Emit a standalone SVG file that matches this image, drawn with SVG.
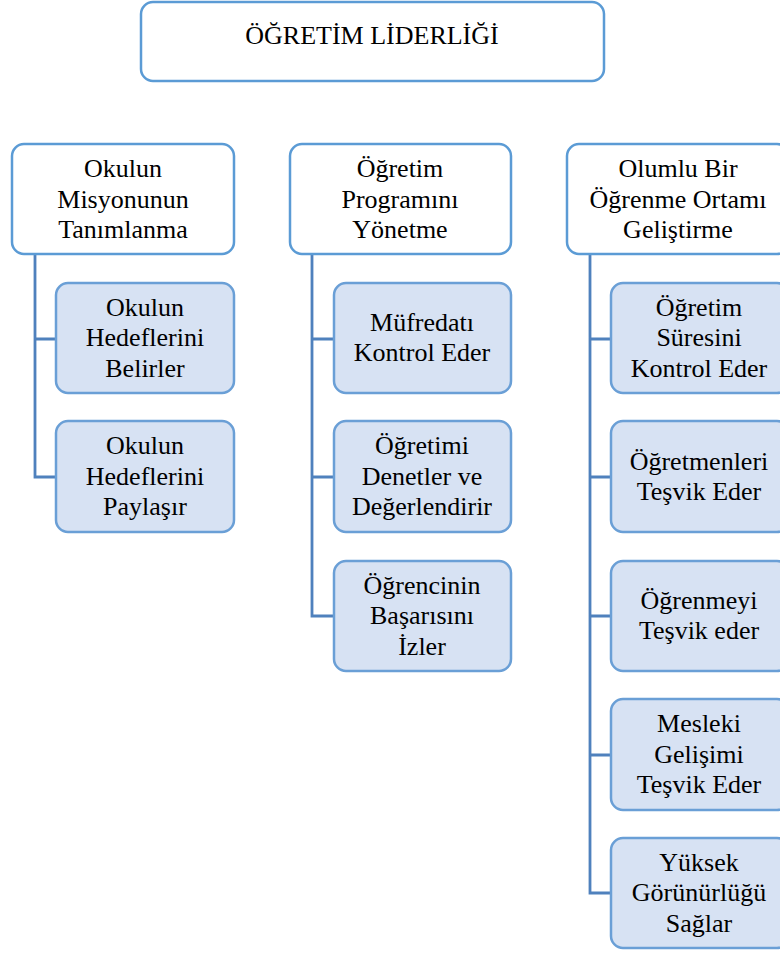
<svg xmlns="http://www.w3.org/2000/svg" width="780" height="954" viewBox="0 0 780 954">
<style>
.hdr{fill:#ffffff;stroke:#5b9bd5;stroke-width:2.5}
.kid{fill:#d7e2f3;stroke:#6a9fd6;stroke-width:2.5}
.c{fill:none;stroke:#4f81bd;stroke-width:2.8}
</style>
<rect width="780" height="954" fill="#ffffff"/>
<g id="connectors">
<path class="c" d="M35 254 V477 H56 M35 339 H56"/>
<path class="c" d="M312 254 V616 H334 M312 339 H334 M312 477 H334"/>
<path class="c" d="M590 254 V893 H611 M590 339 H611 M590 477 H611 M590 616 H611 M590 755 H611"/>
</g>
<g id="root">
<rect class="hdr" x="141" y="2" width="463" height="79" rx="12"/>
<text x="372" y="44" font-family="Liberation Serif" font-size="26" text-anchor="middle">ÖĞRETİM LİDERLİĞİ</text>
</g>
<g id="h1">
<rect class="hdr" x="12" y="144" width="222" height="110" rx="12"/>
<text x="123" y="177" font-family="Liberation Serif" font-size="26" text-anchor="middle">Okulun</text>
<text x="123" y="208" font-family="Liberation Serif" font-size="26" text-anchor="middle">Misyonunun</text>
<text x="123" y="238" font-family="Liberation Serif" font-size="26" text-anchor="middle">Tanımlanma</text>
</g>
<g id="h2">
<rect class="hdr" x="290" y="144" width="221" height="110" rx="12"/>
<text x="400" y="177" font-family="Liberation Serif" font-size="26" text-anchor="middle">Öğretim</text>
<text x="400" y="208" font-family="Liberation Serif" font-size="26" text-anchor="middle">Programını</text>
<text x="400" y="238" font-family="Liberation Serif" font-size="26" text-anchor="middle">Yönetme</text>
</g>
<g id="h3">
<rect class="hdr" x="567" y="144" width="222" height="110" rx="12"/>
<text x="678" y="177" font-family="Liberation Serif" font-size="26" text-anchor="middle">Olumlu Bir</text>
<text x="678" y="208" font-family="Liberation Serif" font-size="26" text-anchor="middle">Öğrenme Ortamı</text>
<text x="678" y="238" font-family="Liberation Serif" font-size="26" text-anchor="middle">Geliştirme</text>
</g>
<g id="c1a">
<rect class="kid" x="56" y="283" width="178" height="110" rx="12"/>
<text x="145" y="316" font-family="Liberation Serif" font-size="26" text-anchor="middle">Okulun</text>
<text x="145" y="346" font-family="Liberation Serif" font-size="26" text-anchor="middle">Hedeflerini</text>
<text x="145" y="377" font-family="Liberation Serif" font-size="26" text-anchor="middle">Belirler</text>
</g>
<g id="c1b">
<rect class="kid" x="56" y="421" width="178" height="111" rx="12"/>
<text x="145" y="454" font-family="Liberation Serif" font-size="26" text-anchor="middle">Okulun</text>
<text x="145" y="485" font-family="Liberation Serif" font-size="26" text-anchor="middle">Hedeflerini</text>
<text x="145" y="515" font-family="Liberation Serif" font-size="26" text-anchor="middle">Paylaşır</text>
</g>
<g id="c2a">
<rect class="kid" x="334" y="283" width="177" height="110" rx="12"/>
<text x="422" y="331" font-family="Liberation Serif" font-size="26" text-anchor="middle">Müfredatı</text>
<text x="422" y="361" font-family="Liberation Serif" font-size="26" text-anchor="middle">Kontrol Eder</text>
</g>
<g id="c2b">
<rect class="kid" x="334" y="421" width="177" height="111" rx="12"/>
<text x="422" y="454" font-family="Liberation Serif" font-size="26" text-anchor="middle">Öğretimi</text>
<text x="422" y="485" font-family="Liberation Serif" font-size="26" text-anchor="middle">Denetler ve</text>
<text x="422" y="515" font-family="Liberation Serif" font-size="26" text-anchor="middle">Değerlendirir</text>
</g>
<g id="c2c">
<rect class="kid" x="334" y="561" width="177" height="110" rx="12"/>
<text x="422" y="594" font-family="Liberation Serif" font-size="26" text-anchor="middle">Öğrencinin</text>
<text x="422" y="624" font-family="Liberation Serif" font-size="26" text-anchor="middle">Başarısını</text>
<text x="422" y="655" font-family="Liberation Serif" font-size="26" text-anchor="middle">İzler</text>
</g>
<g id="c3a">
<rect class="kid" x="611" y="283" width="178" height="110" rx="12"/>
<text x="699" y="316" font-family="Liberation Serif" font-size="26" text-anchor="middle">Öğretim</text>
<text x="699" y="346" font-family="Liberation Serif" font-size="26" text-anchor="middle">Süresini</text>
<text x="699" y="377" font-family="Liberation Serif" font-size="26" text-anchor="middle">Kontrol Eder</text>
</g>
<g id="c3b">
<rect class="kid" x="611" y="421" width="178" height="111" rx="12"/>
<text x="699" y="470" font-family="Liberation Serif" font-size="26" text-anchor="middle">Öğretmenleri</text>
<text x="699" y="500" font-family="Liberation Serif" font-size="26" text-anchor="middle">Teşvik Eder</text>
</g>
<g id="c3c">
<rect class="kid" x="611" y="561" width="178" height="110" rx="12"/>
<text x="699" y="609" font-family="Liberation Serif" font-size="26" text-anchor="middle">Öğrenmeyi</text>
<text x="699" y="639" font-family="Liberation Serif" font-size="26" text-anchor="middle">Teşvik eder</text>
</g>
<g id="c3d">
<rect class="kid" x="611" y="699" width="178" height="111" rx="12"/>
<text x="699" y="732" font-family="Liberation Serif" font-size="26" text-anchor="middle">Mesleki</text>
<text x="699" y="763" font-family="Liberation Serif" font-size="26" text-anchor="middle">Gelişimi</text>
<text x="699" y="793" font-family="Liberation Serif" font-size="26" text-anchor="middle">Teşvik Eder</text>
</g>
<g id="c3e">
<rect class="kid" x="611" y="838" width="178" height="110" rx="12"/>
<text x="699" y="871" font-family="Liberation Serif" font-size="26" text-anchor="middle">Yüksek</text>
<text x="699" y="901" font-family="Liberation Serif" font-size="26" text-anchor="middle">Görünürlüğü</text>
<text x="699" y="932" font-family="Liberation Serif" font-size="26" text-anchor="middle">Sağlar</text>
</g>
</svg>
